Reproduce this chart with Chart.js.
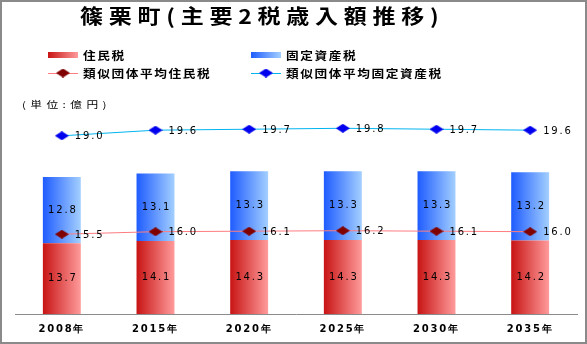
<!DOCTYPE html>
<html lang="ja">
<head>
<meta charset="utf-8">
<title>篠栗町(主要2税歳入額推移)</title>
<script src="https://cdn.jsdelivr.net/npm/chart.js@4/dist/chart.umd.min.js"></script>
<style>
  html, body { margin: 0; padding: 0; background: #fff; }
  #wrap { position: relative; width: 587px; height: 344px; overflow: hidden; color: #000;
          font-family: "Noto Sans CJK JP", "Liberation Sans", sans-serif; }
  #chart { position: absolute; left: 0; top: 0; }
  #frame { position: absolute; left: 0; top: 0; width: 587px; height: 344px; box-sizing: border-box;
           border: 2px solid #8a8a8a; pointer-events: none; }
  .stretch { position: absolute; white-space: nowrap; transform-origin: 0 50%; }
  #title { left: 80px; top: 16px; font-size: 20px; font-weight: bold; letter-spacing: 5px;
           line-height: 20px; margin-top: -10px; transform: scaleX(1.15); }
  #unit { left: 22px; top: 105px; font-size: 9px; letter-spacing: 3.4px; line-height: 10px;
          margin-top: -5px; transform: scaleX(1.3); }
  .lg { position: absolute; height: 12px; margin-top: -6px; display: flex; align-items: center; }
  .lg .sw { width: 30px; height: 6px; flex: none; }
  .lg canvas { flex: none; display: block; }
  .lg .tx { margin-left: 5px; font-size: 11px; font-weight: bold; letter-spacing: 1.4px;
            line-height: 12px; white-space: nowrap; transform: scaleX(1.15); transform-origin: 0 50%; }
</style>
</head>
<body>
<div id="wrap">
  <canvas id="chart" width="587" height="344"></canvas>
  <div id="title" class="stretch">篠栗町(主要2税歳入額推移)</div>
  <div id="unit" class="stretch">(単位:億円)</div>
  <div id="legend"></div>
  <div id="frame"></div>
</div>
<script>
// 年度別の主要2税（億円）
const categories = ['2008年', '2015年', '2020年', '2025年', '2030年', '2035年'];
const residentTax = [13.7, 14.1, 14.3, 14.3, 14.3, 14.2];
const propertyTax = [12.8, 13.1, 13.3, 13.3, 13.3, 13.2];
// 類似団体平均（億円）
const peerResidentTax = [15.5, 16.0, 16.1, 16.2, 16.1, 16.0];
const peerPropertyTax = [19.0, 19.6, 19.7, 19.8, 19.7, 19.6];

const BAR_PCT = 0.405;
const LABEL_FONT = '10px "DejaVu Sans", "Liberation Sans", sans-serif';

// 横方向グラデーション（左が濃く右が淡い）
const RED = ['#c81414', '#ff9b9b'];
const BLUE = ['#1f5cff', '#a3cfff'];

function barGradient(colors) {
  return (ctx) => {
    const chart = ctx.chart;
    const x = chart.scales.x;
    if (!x || !chart.chartArea || ctx.dataIndex === undefined) return colors[0];
    const cx = x.getPixelForValue(ctx.dataIndex);
    const w = (x.width / categories.length) * BAR_PCT;
    if (!isFinite(cx) || !isFinite(w) || w <= 0) return colors[0];
    const g = chart.ctx.createLinearGradient(cx - w / 2, 0, cx + w / 2, 0);
    g.addColorStop(0, colors[0]);
    g.addColorStop(1, colors[1]);
    return g;
  };
}

// 横長のひし形マーカー
function diamond(color) {
  const c = document.createElement('canvas');
  c.width = 14; c.height = 9;
  const g = c.getContext('2d');
  g.fillStyle = color;
  g.beginPath();
  g.moveTo(0, 4.5); g.lineTo(7, 0); g.lineTo(14, 4.5); g.lineTo(7, 9);
  g.closePath(); g.fill();
  return c;
}

const datasets = [
  { label: '住民税', data: residentTax, stack: 'tax', yAxisID: 'y', order: 2,
    backgroundColor: barGradient(RED), swatch: RED, borderWidth: 0 },
  { label: '固定資産税', data: propertyTax, stack: 'tax', yAxisID: 'y', order: 2,
    backgroundColor: barGradient(BLUE), swatch: BLUE, borderWidth: 0 },
  { type: 'line', label: '類似団体平均住民税', data: peerResidentTax, yAxisID: 'yRes', order: 0,
    borderColor: '#ff7c80', borderWidth: 1, tension: 0,
    pointStyle: diamond('#800000'), pointRadius: 6, fill: false },
  { type: 'line', label: '類似団体平均固定資産税', data: peerPropertyTax, yAxisID: 'yProp', order: 0,
    borderColor: '#00b4f0', borderWidth: 1, tension: 0,
    pointStyle: diamond('#0000ee'), pointRadius: 6, fill: false }
];

// 数値ラベル
const valueLabels = {
  id: 'valueLabels',
  afterDatasetsDraw(chart) {
    const ctx = chart.ctx;
    ctx.save();
    ctx.font = LABEL_FONT;
    ctx.letterSpacing = '1.8px';
    ctx.fillStyle = '#000';
    ctx.textBaseline = 'middle';
    chart.data.datasets.forEach((ds, i) => {
      const meta = chart.getDatasetMeta(i);
      meta.data.forEach((el, j) => {
        const txt = ds.data[j].toFixed(1);
        if (ds.type === 'line') {
          ctx.textAlign = 'left';
          ctx.fillText(txt, el.x + 13, el.y + 1);
        } else {
          ctx.textAlign = 'center';
          ctx.fillText(txt, el.x + 1, (el.y + el.base) / 2);
        }
      });
    });
    ctx.restore();
  }
};

const tickSpacing = {
  id: 'tickSpacing',
  beforeDraw(chart) { chart.ctx.letterSpacing = '1.8px'; },
  afterDraw(chart) { chart.ctx.letterSpacing = '0px'; }
};

new Chart(document.getElementById('chart'), {
  type: 'bar',
  data: { labels: categories, datasets },
  options: {
    responsive: false,
    animation: false,
    layout: { padding: { top: 100, left: 15, right: 10, bottom: 0 } },
    plugins: { legend: { display: false }, title: { display: false }, tooltip: { enabled: false } },
    datasets: { bar: { barPercentage: BAR_PCT, categoryPercentage: 1 } },
    scales: {
      x: {
        stacked: true,
        grid: { display: false, drawTicks: false },
        border: { display: true, color: '#8a8a8a', width: 1 },
        ticks: { color: '#000', padding: 9, font: { family: '"DejaVu Sans", sans-serif', size: 10, weight: 'bold' } },
        afterFit: (s) => { s.height = 30; }
      },
      y: { stacked: true, display: false, min: 0, max: 41.4 },
      yRes: { display: false, min: -0.46, max: 42.34 },
      yProp: { display: false, min: 0.04, max: 22.81 }
    }
  },
  plugins: [valueLabels, tickSpacing]
});

// 凡例（2列×2行）
const legendPos = [
  { x: 48, y: 55 }, { x: 251, y: 55 }, { x: 48, y: 73 }, { x: 251, y: 73 }
];
const legendEl = document.getElementById('legend');
datasets.forEach((ds, i) => {
  const item = document.createElement('div');
  item.className = 'lg';
  item.style.left = legendPos[i].x + 'px';
  item.style.top = legendPos[i].y + 'px';
  if (ds.type === 'line') {
    const c = document.createElement('canvas');
    c.width = 30; c.height = 10;
    const g = c.getContext('2d');
    g.strokeStyle = ds.borderColor; g.lineWidth = 1;
    g.beginPath(); g.moveTo(0, 5.5); g.lineTo(30, 5.5); g.stroke();
    g.drawImage(ds.pointStyle, 8, 0.5);
    item.appendChild(c);
  } else {
    const sw = document.createElement('span');
    sw.className = 'sw';
    sw.style.background = `linear-gradient(to right, ${ds.swatch[0]}, ${ds.swatch[1]})`;
    item.appendChild(sw);
  }
  const tx = document.createElement('span');
  tx.className = 'tx';
  tx.textContent = ds.label;
  item.appendChild(tx);
  legendEl.appendChild(item);
});
</script>
</body>
</html>
